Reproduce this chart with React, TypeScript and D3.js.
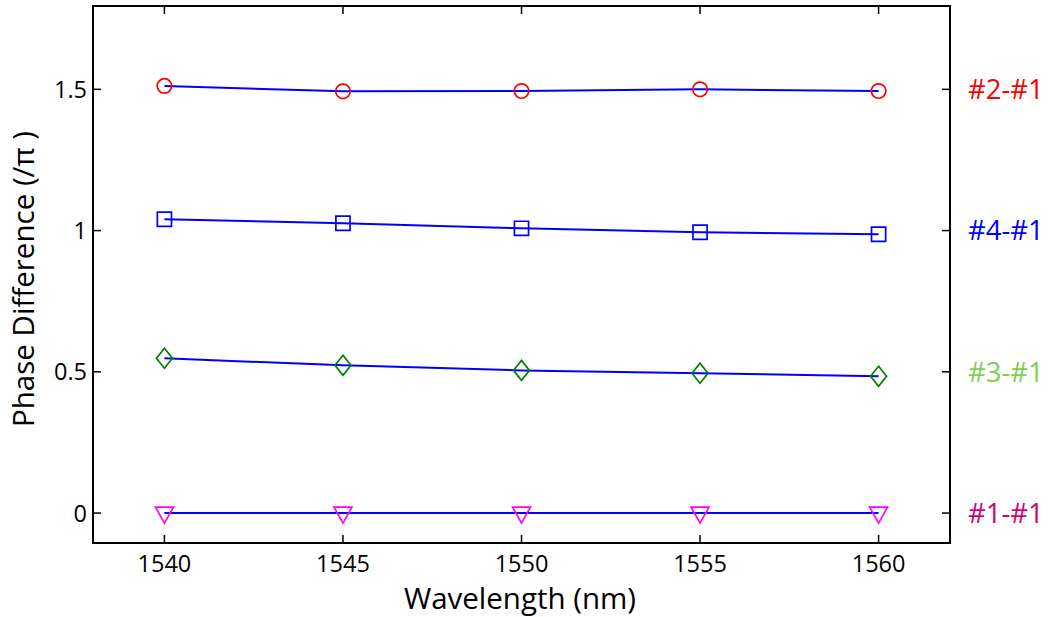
import { useMemo } from "react";
import { scaleLinear, line, symbol, symbolCircle, symbolSquare } from "d3";

const WIDTH = 1050;
const HEIGHT = 617;
const PLOT = { left: 93, right: 950, top: 6, bottom: 543 };
const FONT = "'Open Sans', 'Liberation Sans', sans-serif";

const wavelengths = [1540, 1545, 1550, 1555, 1560];
const xTicks = [1540, 1545, 1550, 1555, 1560];
const yTicks = [0, 0.5, 1, 1.5];
const yTickLabels = ["0", "0.5", "1", "1.5"];

const diff21 = [1.512, 1.493, 1.494, 1.5, 1.494];
const diff41 = [1.04, 1.026, 1.008, 0.994, 0.987];
const diff31 = [0.548, 0.523, 0.505, 0.495, 0.484];
const diff11 = [0, 0, 0, 0, 0];

const seriesNames = ["#2-#1", "#4-#1", "#3-#1", "#1-#1"];
const markerColors = ["#ff0000", "#0000ff", "#008000", "#ff00ff"];
const labelColors = ["#ff0000", "#0000ff", "#7ed04f", "#d4006f"];
const labelLevels = [1.5, 1, 0.5, 0];

export default function App() {
  const x = useMemo(() => scaleLinear().domain([1538, 1562]).range([PLOT.left, PLOT.right]), []);
  const y = useMemo(() => scaleLinear().domain([-0.106, 1.795]).range([PLOT.bottom, PLOT.top]), []);

  const series = [diff21, diff41, diff31, diff11];
  const symbols = [symbol(symbolCircle, 165)(), symbol(symbolSquare, 200)(), null, null];
  const path = line<number>()
    .x((_, i) => x(wavelengths[i]))
    .y((d) => y(d));

  // diamond is taller than wide, triangle points down
  const marker = (k: number) => {
    if (k === 2) return "M0,-10L8,0L0,10L-8,0Z";
    if (k === 3) return "M-9,-6L9,-6L0,10Z";
    return symbols[k] ?? "";
  };

  return (
    <svg width={WIDTH} height={HEIGHT} style={{ position: "absolute", left: 0, top: 0 }} fontFamily={FONT}>
      <rect width={WIDTH} height={HEIGHT} fill="#fff" />
      {series.map((values, k) => (
        <path key={`l${k}`} d={path(values) ?? ""} fill="none" stroke="#0000ff" strokeWidth={2} />
      ))}
      {series.map((values, k) =>
        values.map((v, i) => (
          <path
            key={`m${k}-${i}`}
            d={marker(k)}
            transform={`translate(${x(wavelengths[i])},${y(v)})`}
            fill="none"
            stroke={markerColors[k]}
            strokeWidth={1.7}
          />
        ))
      )}

      <rect
        x={PLOT.left}
        y={PLOT.top}
        width={PLOT.right - PLOT.left}
        height={PLOT.bottom - PLOT.top}
        fill="none"
        stroke="#000"
        strokeWidth={2}
      />
      {xTicks.map((t) => (
        <g key={`x${t}`}>
          <line x1={x(t)} x2={x(t)} y1={PLOT.bottom} y2={PLOT.bottom - 8} stroke="#000" strokeWidth={1.5} />
          <line x1={x(t)} x2={x(t)} y1={PLOT.top} y2={PLOT.top + 8} stroke="#000" strokeWidth={1.5} />
          <text x={x(t)} y={572} textAnchor="middle" fontSize={23.5} fill="#000">
            {t}
          </text>
        </g>
      ))}
      {yTicks.map((t, i) => (
        <g key={`y${t}`}>
          <line x1={PLOT.left} x2={PLOT.left + 8} y1={y(t)} y2={y(t)} stroke="#000" strokeWidth={1.5} />
          <line x1={PLOT.right} x2={PLOT.right - 8} y1={y(t)} y2={y(t)} stroke="#000" strokeWidth={1.5} />
          <text x={87} y={y(t)} dy="0.36em" textAnchor="end" fontSize={23.5} fill="#000">
            {yTickLabels[i]}
          </text>
        </g>
      ))}

      {seriesNames.map((name, k) => (
        <text key={name} x={968} y={y(labelLevels[k])} dy="0.36em" fontSize={27.5} fill={labelColors[k]}>
          {name}
        </text>
      ))}

      <text x={520} y={609} textAnchor="middle" fontSize={29.5} fill="#000">
        Wavelength (nm)
      </text>
      <text transform="translate(34,279) rotate(-90)" textAnchor="middle" fontSize={29.5} fill="#000">
        Phase Difference (/π )
      </text>
    </svg>
  );
}
